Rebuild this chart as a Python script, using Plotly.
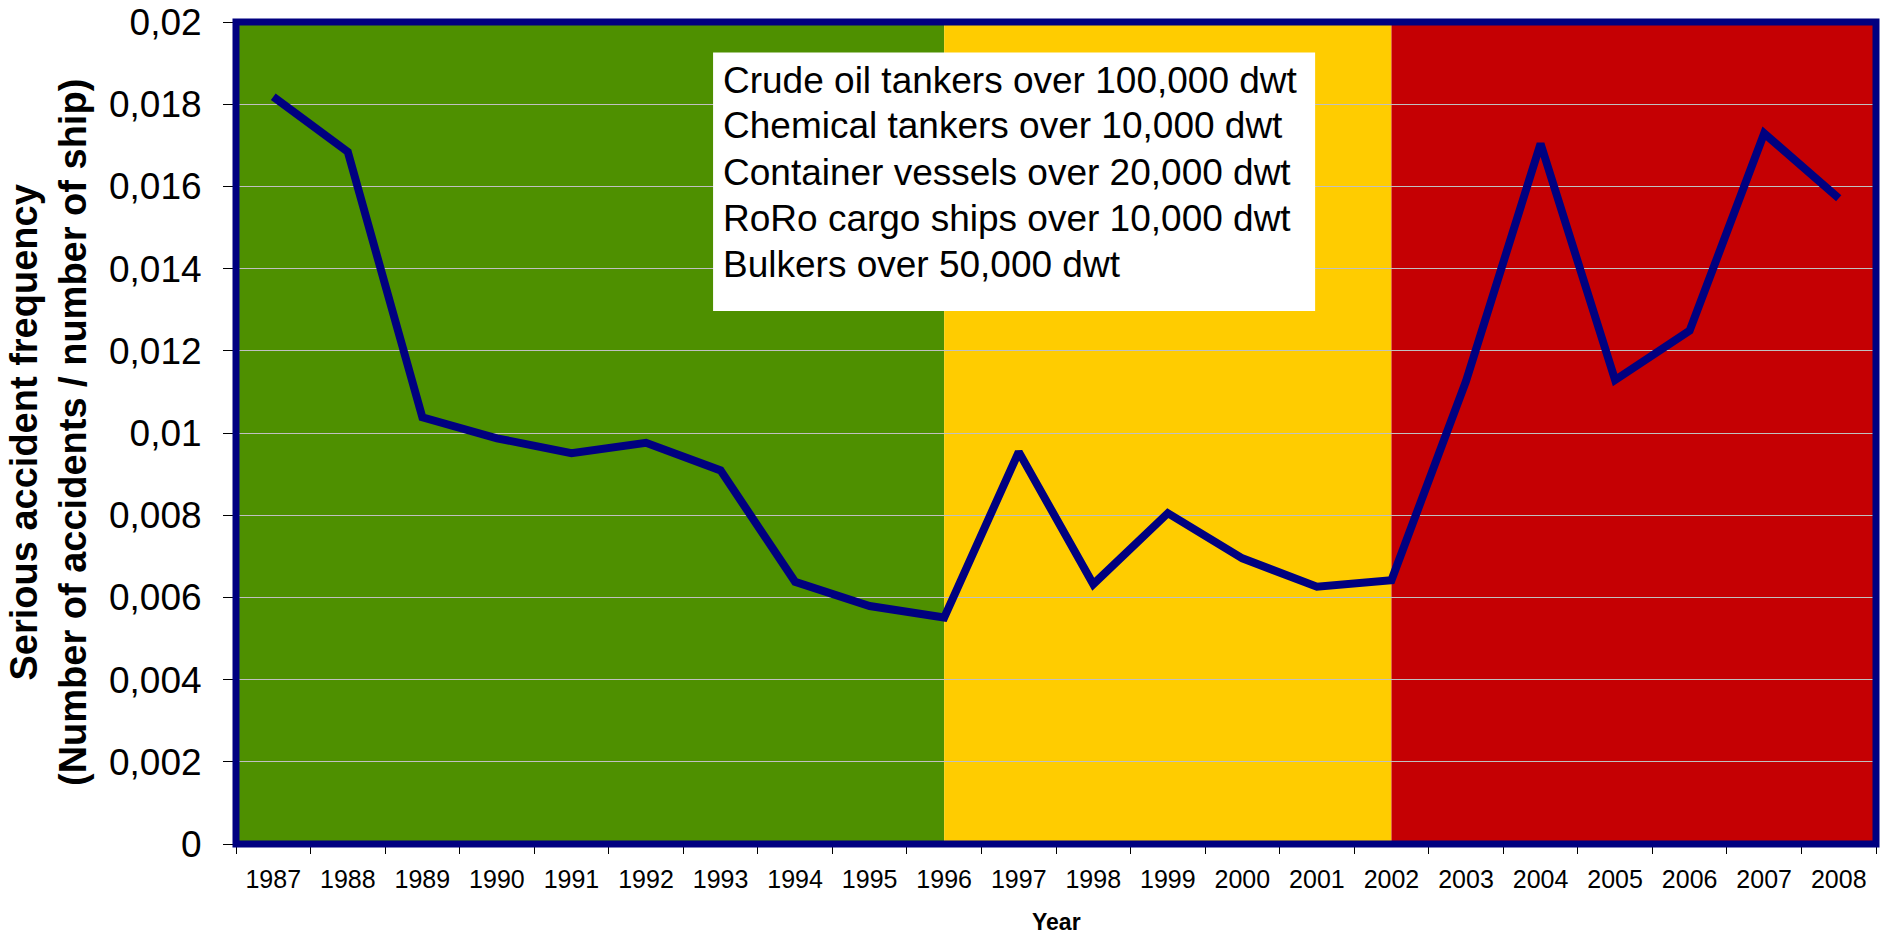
import plotly.graph_objects as go

# ---- data ----
years = list(range(1987, 2009))
frequency = [0.01818, 0.01684, 0.01038, 0.00987, 0.00951, 0.00976, 0.00909,
             0.00638, 0.00579, 0.00551, 0.00954, 0.00632, 0.00805, 0.00695,
             0.00626, 0.00642, 0.01126, 0.01704, 0.01129, 0.01249, 0.01729,
             0.01571]

y_tick_values = [0, 0.002, 0.004, 0.006, 0.008, 0.01, 0.012, 0.014, 0.016, 0.018, 0.02]
y_tick_labels = ["0", "0,002", "0,004", "0,006", "0,008", "0,01", "0,012",
                 "0,014", "0,016", "0,018", "0,02"]

period_starts = [1986.5, 1996, 2002]
period_ends = [1996, 2002, 2008.5]
period_colors = ["#4E9000", "#FFCC00", "#C50003"]

legend_lines = [
    "Crude oil tankers over 100,000 dwt",
    "Chemical tankers over 10,000 dwt",
    "Container vessels over 20,000 dwt",
    "RoRo cargo ships over 10,000 dwt",
    "Bulkers over 50,000 dwt",
]

FONT = "Liberation Sans, Arial, sans-serif"
NAVY = "#000080"

fig = go.Figure()

fig.add_trace(go.Scatter(
    x=years, y=frequency, mode="lines",
    line=dict(color=NAVY, width=8),
    showlegend=False, hoverinfo="x+y",
))

shapes = []
for x0, x1, c in zip(period_starts, period_ends, period_colors):
    shapes.append(dict(type="rect", xref="x", yref="y", x0=x0, x1=x1,
                       y0=0, y1=0.02, fillcolor=c, line=dict(width=0),
                       layer="below"))
# white box behind the ship-type list
shapes.append(dict(type="rect", xref="paper", yref="paper",
                   x0=0.2909, x1=0.658, y0=0.6484, y1=0.963,
                   fillcolor="white", line=dict(width=0), layer="above"))
# thick plot-area border
shapes.append(dict(type="rect", xref="paper", yref="paper",
                   x0=0, x1=1, y0=0, y1=1,
                   line=dict(color=NAVY, width=7), layer="above"))

annotations = []
line_centers_px = [80, 126, 172, 218, 264]
for txt, yc in zip(legend_lines, line_centers_px):
    annotations.append(dict(
        text=txt, xref="paper", yref="paper",
        x=(721 - 236) / 1640, y=(844 - yc) / 822,
        xanchor="left", yanchor="middle", showarrow=False,
        font=dict(family=FONT, size=37, color="black"),
    ))

annotations.append(dict(
    text="<b>Serious accident frequency<br>(Number of accidents / number of ship)</b>",
    xref="paper", yref="paper", x=(48 - 236) / 1640, y=0.5,
    xanchor="center", yanchor="middle", textangle=-90, showarrow=False,
    font=dict(family=FONT, size=38, color="black"),
))
annotations.append(dict(
    text="<b>Year</b>", xref="paper", yref="paper",
    x=0.5, y=(844 - 922) / 822, xanchor="center", yanchor="middle",
    showarrow=False, font=dict(family=FONT, size=23, color="black"),
))

fig.update_layout(
    width=1886, height=935,
    margin=dict(l=236, r=10, t=22, b=91, autoexpand=False),
    paper_bgcolor="white", plot_bgcolor="white",
    shapes=shapes, annotations=annotations,
    font=dict(family=FONT, color="black"),
    showlegend=False,
)

fig.update_xaxes(
    range=[1986.5, 2008.5], tickvals=years, ticktext=[str(y) for y in years],
    ticks="", showgrid=False, zeroline=False, showline=False, automargin=False,
    tickfont=dict(family=FONT, size=25, color="black"),
    ticklabelstandoff=18,
    minor=dict(tick0=1986.5, dtick=1, ticks="outside", ticklen=9,
               tickcolor="black", tickwidth=1, showgrid=False),
)
fig.update_yaxes(
    range=[0, 0.02], tickvals=y_tick_values, ticktext=y_tick_labels,
    ticks="outside", ticklen=12, tickcolor="black", tickwidth=1,
    showgrid=True, gridcolor="#C0C0C0", gridwidth=1, automargin=False,
    zeroline=False, showline=False,
    tickfont=dict(family=FONT, size=37, color="black"),
    ticklabelstandoff=14,
)

fig.write_html("out.html", config={"displayModeBar": False},
               post_script="document.body.style.margin='0';")
